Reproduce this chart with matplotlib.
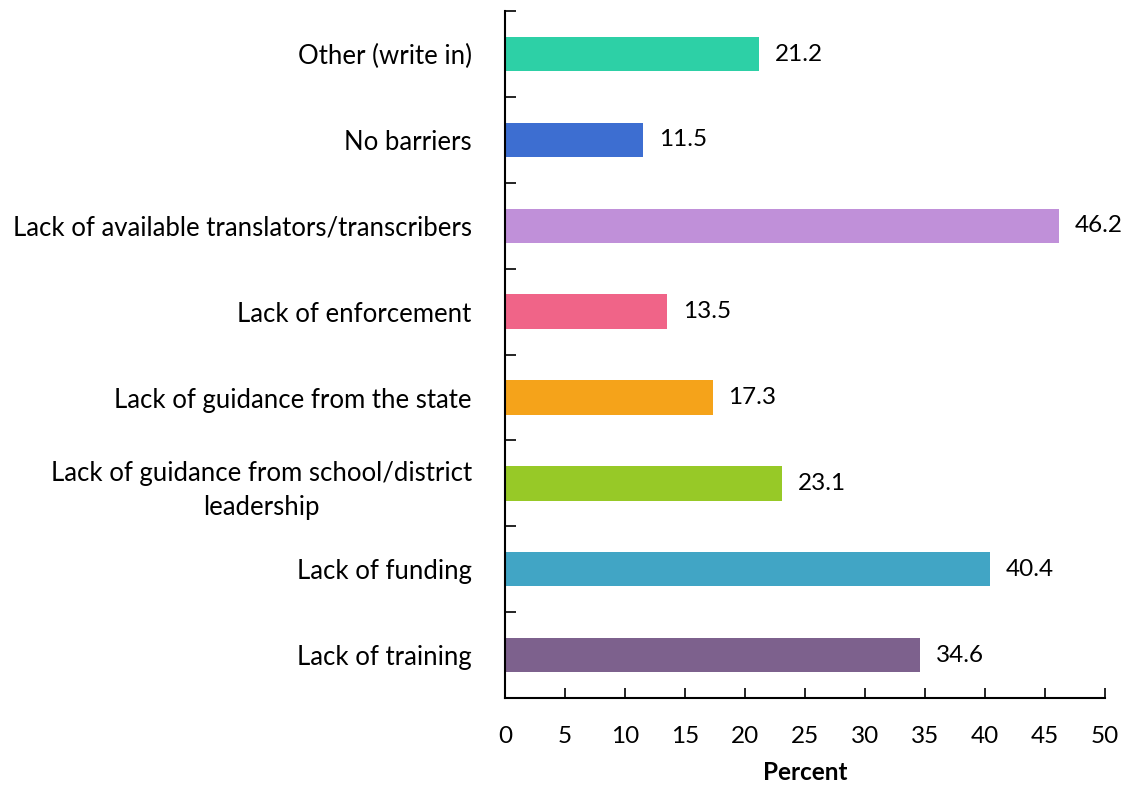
import matplotlib.pyplot as plt

categories = [
    "Lack of training",
    "Lack of funding",
    "Lack of guidance from school/district\nleadership",
    "Lack of guidance from the state",
    "Lack of enforcement",
    "Lack of available translators/transcribers",
    "No barriers",
    "Other (write in)",
]
values = [34.6, 40.4, 23.1, 17.3, 13.5, 46.2, 11.5, 21.2]
colors = ["#7D618D", "#41A5C5", "#97C927", "#F5A31A",
          "#F06488", "#C090D9", "#3D6ED1", "#2DD0A6"]
x_ticks = list(range(0, 55, 5))

plt.rcParams["font.family"] = ["Lato", "DejaVu Sans"]

fig = plt.figure(figsize=(11.24, 7.85), dpi=100)
ax = fig.add_axes([0.4493, 0.1108, 0.5338, 0.875])

pos = list(range(len(categories)))
ax.barh(pos, values, height=0.4, color=colors)
for y, v in zip(pos, values):
    ax.text(v + 1.3, y, f"{v:.1f}", va="center", ha="left", fontsize=17.5)

ax.set_xlim(0, 50)
ax.set_ylim(-0.5, len(categories) - 0.5)
ax.set_xticks(x_ticks)
ax.set_xticklabels([str(t) for t in x_ticks], fontsize=17.5)
ax.tick_params(axis="x", direction="in", length=7, width=1.2, pad=20)

# category labels, ticks sit on the boundaries between bars
ax.set_yticks(pos)
ax.set_yticklabels(categories, fontsize=18.5, ha="right",
                   multialignment="center", linespacing=1.45)
ax.tick_params(axis="y", which="major", length=0, pad=24)
ax.set_yticks([p - 0.5 for p in pos] + [len(categories) - 0.5], minor=True)
ax.tick_params(axis="y", which="minor", direction="in", length=8, width=1.2)

ax.set_xlabel("Percent", fontsize=17.5, fontweight="bold", labelpad=10)

for side in ["top", "right"]:
    ax.spines[side].set_visible(False)
for side in ["left", "bottom"]:
    ax.spines[side].set_linewidth(1.5)

fig.savefig("out.png", dpi=100)
